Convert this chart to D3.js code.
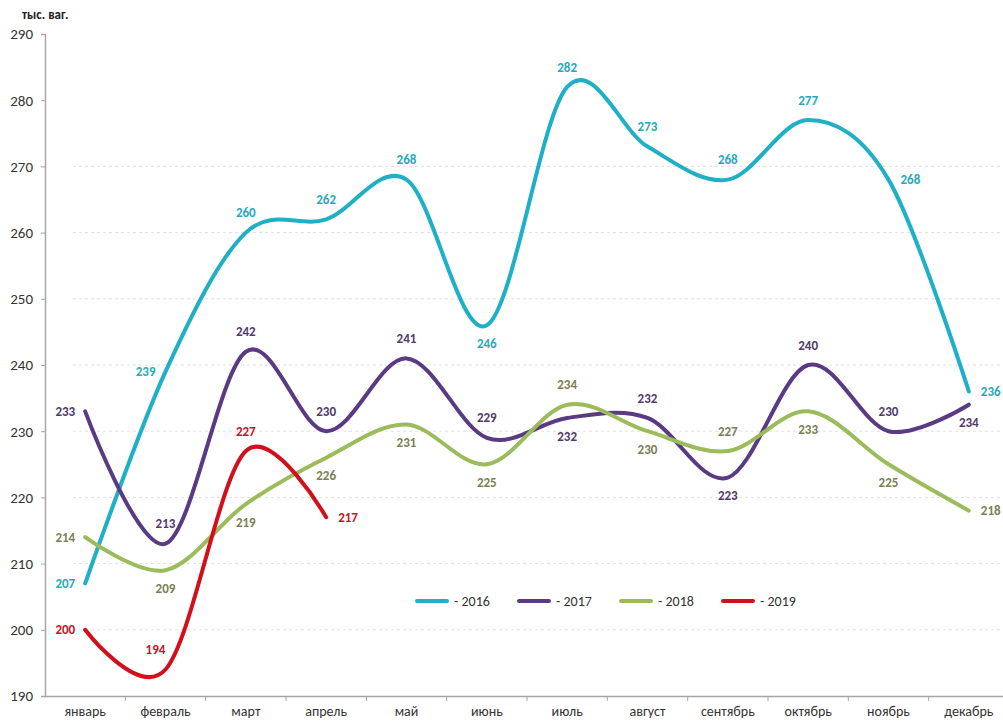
<!DOCTYPE html>
<html>
<head>
<meta charset="utf-8">
<script src="https://cdn.jsdelivr.net/npm/d3@7"></script>
<style>
  body { margin: 0; background: #fff; }
  text { font-family: Carlito, Calibri, Lato, "Open Sans", sans-serif; }
</style>
</head>
<body>
<div id="chart"></div>
<script>
// data
const months = ["январь", "февраль", "март", "апрель", "май", "июнь",
                "июль", "август", "сентябрь", "октябрь", "ноябрь", "декабрь"];
const years = ["2016", "2017", "2018", "2019"];
const v2016 = [207, 239, 260, 262, 268, 246, 282, 273, 268, 277, 268, 236];
const v2017 = [233, 213, 242, 230, 241, 229, 232, 232, 223, 240, 230, 234];
const v2018 = [214, 209, 219, 226, 231, 225, 234, 230, 227, 233, 225, 218];
const v2019 = [200, 194, 227, 217];
const yTicks = [190, 200, 210, 220, 230, 240, 250, 260, 270, 280, 290];
const gridTicks = [200, 210, 220, 230, 240, 250, 260, 270];

// where each data label sits: t = above, b = below, l = left, r = right, u = above-left
const pos2016 = ["l", "l", "t", "t", "t", "b", "t", "t", "t", "t", "r", "r"];
const pos2017 = ["l", "t", "t", "t", "t", "t", "b", "t", "b", "t", "t", "b"];
const pos2018 = ["l", "b", "b", "b", "b", "b", "t", "b", "t", "b", "b", "r"];
const pos2019 = ["l", "u", "t", "r"];

const series = [
  { name: "2016", values: v2016, pos: pos2016, color: "#1fb0c6", labelColor: "#27a9bb" },
  { name: "2017", values: v2017, pos: pos2017, color: "#5a3a83", labelColor: "#4f3a6c" },
  { name: "2018", values: v2018, pos: pos2018, color: "#9cbb5b", labelColor: "#7b8052" },
  { name: "2019", values: v2019, pos: pos2019, color: "#d2101c", labelColor: "#c41426" }
];

const svgWidth = 1003, svgHeight = 721;

const svg = d3.select("#chart").append("svg")
    .attr("width", svgWidth)
    .attr("height", svgHeight);

const x = d3.scaleBand().domain(months).range([45, 1009]);
const y = d3.scaleLinear().domain([190, 290]).range([696, 34]);
const cx = m => x(m) + x.bandwidth() / 2;

// gridlines
svg.append("g").selectAll("line")
    .data(gridTicks)
    .enter().append("line")
    .attr("x1", 73)
    .attr("x2", svgWidth)
    .attr("y1", d => y(d))
    .attr("y2", d => y(d))
    .attr("stroke", "#e0e0e0")
    .attr("stroke-width", 1)
    .attr("stroke-dasharray", "3,3");

// y axis
const yAxis = svg.append("g")
    .attr("transform", "translate(45,0)")
    .call(d3.axisLeft(y).tickValues(yTicks).tickSize(4).tickPadding(8));
yAxis.select(".domain").attr("stroke", "#a6a6a6").attr("stroke-width", 1.5);
yAxis.selectAll(".tick line").attr("stroke", "#a6a6a6");
yAxis.selectAll("text").style("font-size", "15px").attr("fill", "#333");

// x axis (labels centred, ticks between categories)
const xAxis = svg.append("g")
    .attr("transform", "translate(0,696)")
    .call(d3.axisBottom(x).tickSize(0).tickPadding(10));
xAxis.select(".domain").attr("stroke", "#a6a6a6").attr("stroke-width", 1.5);
xAxis.selectAll("text").style("font-size", "14px").attr("fill", "#333");
xAxis.selectAll(".sep")
    .data(months.slice(1))
    .enter().append("line")
    .attr("class", "sep")
    .attr("x1", d => x(d))
    .attr("x2", d => x(d))
    .attr("y1", 0)
    .attr("y2", 5)
    .attr("stroke", "#a6a6a6");

// unit title
svg.append("text")
    .attr("x", 22)
    .attr("y", 19)
    .style("font-size", "13px")
    .style("font-weight", "bold")
    .attr("fill", "#222")
    .text("тыс. ваг.");

// lines
const line = d3.line()
    .x((d, i) => cx(months[i]))
    .y(d => y(d))
    .curve(d3.curveCardinal.tension(0));

svg.append("g").selectAll("path")
    .data(series)
    .enter().append("path")
    .attr("d", s => line(s.values))
    .attr("fill", "none")
    .attr("stroke", s => s.color)
    .attr("stroke-width", 4)
    .attr("stroke-linecap", "round")
    .attr("stroke-linejoin", "round");

// data labels
series.forEach(s => {
    svg.append("g").selectAll("text")
        .data(s.values)
        .enter().append("text")
        .attr("x", (d, i) => {
            const p = s.pos[i], px = cx(months[i]);
            return p === "l" ? px - 10 : p === "r" ? px + 12 : p === "u" ? px - 10 : px;
        })
        .attr("y", (d, i) => {
            const p = s.pos[i], py = y(d);
            return p === "t" || p === "u" ? py - 20 : p === "b" ? py + 18 : py;
        })
        .attr("dy", "0.35em")
        .attr("text-anchor", (d, i) => s.pos[i] === "l" ? "end" : s.pos[i] === "r" ? "start" : "middle")
        .style("font-size", "13px")
        .style("font-weight", "bold")
        .attr("fill", s.labelColor)
        .text(d => d);
});

// legend
const legend = svg.append("g").selectAll("g")
    .data(series)
    .enter().append("g")
    .attr("transform", (d, i) => "translate(" + (417 + i * 102) + ",601)");
legend.append("line")
    .attr("x1", 0).attr("x2", 30)
    .attr("y1", 0).attr("y2", 0)
    .attr("stroke", d => d.color)
    .attr("stroke-width", 4)
    .attr("stroke-linecap", "round");
legend.append("text")
    .attr("x", 37)
    .attr("dy", "0.35em")
    .style("font-size", "14px")
    .attr("fill", "#333")
    .text(d => "- " + d.name);
</script>
</body>
</html>
